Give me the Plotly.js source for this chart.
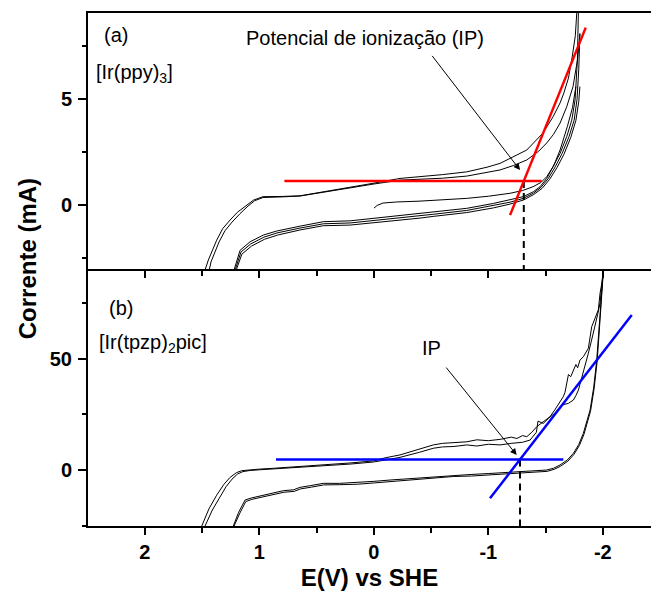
<!DOCTYPE html>
<html>
<head>
<meta charset="utf-8">
<script src="https://cdn.plot.ly/plotly-3.0.1.min.js"></script>
<style>html,body{margin:0;padding:0;background:#fff;}</style>
</head>
<body>
<div id="chart" style="width:651px;height:599px;"></div>
<script>
// ---------- tick labels ----------
const xTickVals = [2, 1, 0, -1, -2];
const xTickText = ['2', '1', '0', '-1', '-2'];
const xMinorVals = [2.5, 1.5, 0.5, -0.5, -1.5, -2.5];
const yaTickVals = [0, 5];
const yaTickText = ['0', '5'];
const yaMinorVals = [-2.5, 2.5, 7.5];
const ybTickVals = [0, 50];
const ybTickText = ['0', '50'];
const ybMinorVals = [-25, 25, 75];

// ---------- panel (a) [Ir(ppy)3] ----------
const aC_x = [-0.002, -0.03, -0.081, -0.20, -0.404, -0.60, -0.812, -1.00, -1.19, -1.30, -1.391, -1.46, -1.51, -1.57, -1.627, -1.69, -1.735, -1.765];
const aC_y = [-0.13, 0.00, 0.11, 0.16, 0.20, 0.26, 0.33, 0.43, 0.57, 0.70, 0.88, 1.08, 1.35, 1.85, 2.61, 3.71, 4.6, 5.6];

const aD1_x = [1.235, 1.218, 1.168, 1.081, 0.965, 0.848, 0.644, 0.441, 0.207, 0.004, -0.20, -0.404, -0.52, -0.812, -1.044, -1.19, -1.306, -1.393, -1.452, -1.51, -1.568, -1.627, -1.685, -1.729, -1.758, -1.778, -1.789];
const aD1_y = [-3.5, -3.0, -2.12, -1.72, -1.40, -1.21, -0.98, -0.77, -0.73, -0.61, -0.50, -0.38, -0.32, -0.14, 0.09, 0.25, 0.41, 0.64, 0.88, 1.27, 1.82, 2.45, 3.24, 4.02, 4.97, 6.85, 9.7];

const aD2_x = [1.225, 1.208, 1.16, 1.075, 0.96, 0.845, 0.644, 0.441, 0.207, 0.004, -0.20, -0.404, -0.52, -0.812, -1.044, -1.19, -1.306, -1.393, -1.46, -1.522, -1.585, -1.645, -1.705, -1.75, -1.775, -1.79, -1.80];
const aD2_y = [-3.5, -3.0, -2.2, -1.82, -1.50, -1.30, -1.07, -0.87, -0.83, -0.72, -0.60, -0.48, -0.42, -0.24, -0.02, 0.15, 0.33, 0.57, 0.85, 1.25, 1.82, 2.45, 3.24, 4.02, 5.0, 6.4, 8.1];

const aD3_x = [1.215, 1.198, 1.152, 1.068, 0.955, 0.84, 0.644, 0.441, 0.207, 0.004, -0.20, -0.404, -0.52, -0.812, -1.044, -1.19, -1.306, -1.393, -1.47, -1.535, -1.60, -1.66, -1.72, -1.765, -1.79, -1.80];
const aD3_y = [-3.5, -3.0, -2.3, -1.92, -1.60, -1.40, -1.16, -0.96, -0.93, -0.83, -0.70, -0.60, -0.52, -0.34, -0.12, 0.06, 0.25, 0.50, 0.80, 1.22, 1.78, 2.40, 3.20, 4.0, 4.9, 5.6];

const aA_x = [-1.78, -1.775, -1.76, -1.73, -1.70, -1.66, -1.627, -1.566, -1.478, -1.336, -1.164, -1.103, -0.989, -0.812, -0.60, -0.404, -0.229, 0.007, 0.20, 0.356, 0.50, 0.644, 0.80, 0.967, 1.05, 1.110, 1.19, 1.255, 1.32, 1.372, 1.445, 1.474, 1.49];
const aA_y = [9.7, 9.07, 8.0, 6.9, 6.0, 5.3, 4.83, 4.18, 3.41, 2.61, 2.14, 1.98, 1.80, 1.58, 1.45, 1.35, 1.27, 1.04, 0.86, 0.72, 0.58, 0.45, 0.42, 0.41, 0.25, 0.01, -0.32, -0.69, -1.1, -1.64, -2.58, -3.05, -3.5];

const aB_x = [-1.80, -1.78, -1.74, -1.685, -1.627, -1.57, -1.51, -1.44, -1.336, -1.22, -1.103, -0.95, -0.812, -0.60, -0.404, -0.229, 0.007, 0.20, 0.356, 0.50, 0.644, 0.80, 0.967, 1.04, 1.098, 1.17, 1.238, 1.30, 1.352, 1.422, 1.44, 1.455];
const aB_y = [8.1, 6.9, 5.6, 4.65, 3.88, 3.35, 2.94, 2.55, 2.14, 1.88, 1.67, 1.50, 1.38, 1.28, 1.22, 1.19, 1.0, 0.84, 0.70, 0.57, 0.44, 0.40, 0.37, 0.22, -0.03, -0.40, -0.79, -1.2, -1.73, -2.67, -3.15, -3.5];

// tangent construction (a)
const redH_x = [0.781, -1.467];
const redH_y = [1.15, 1.15];
const redS_x = [-1.19, -1.851];
const redS_y = [-0.46, 8.38];
const ipA_x = [-1.31, -1.31];
const ipA_y = [1.15, -3.5];

// ---------- panel (b) [Ir(tpzp)2pic] ----------
const bF1_x = [1.235, 1.227, 1.18, 1.124, 1.07, 1.022, 0.95, 0.87, 0.790, 0.70, 0.644, 0.55, 0.441, 0.30, 0.149, 0.0, -0.142, -0.28, -0.404, -0.55, -0.695, -0.85, -1.0, -1.15, -1.277, -1.40, -1.51, -1.57, -1.626, -1.69, -1.743, -1.79, -1.830, -1.889, -1.92, -1.947, -1.965, -1.976, -1.99, -2.0, -2.008];
const bF1_y = [-27, -25.2, -19, -13.5, -12.6, -12.0, -11.0, -10.2, -9.3, -8.9, -7.8, -7.0, -6.0, -6.0, -5.7, -5.1, -4.5, -4.0, -3.3, -2.8, -2.25, -2.0, -1.6, -1.2, -0.77, -0.5, 0, 0.8, 2.25, 4.5, 7.5, 11.5, 16.5, 27.0, 37, 49.5, 61, 72.1, 80, 87.1, 92.5];

const bF2_x = [1.228, 1.220, 1.17, 1.118, 1.065, 1.017, 0.945, 0.865, 0.785, 0.695, 0.64, 0.545, 0.437, 0.296, 0.145, -0.004, -0.146, -0.284, -0.408, -0.554, -0.699, -0.854, -1.004, -1.154, -1.281, -1.404, -1.514, -1.575, -1.631, -1.695, -1.748, -1.795, -1.835, -1.893, -1.924, -1.951, -1.968, -1.979, -1.993, -2.002, -2.009];
const bF2_y = [-27, -25.2, -19.4, -14.2, -13.2, -12.7, -11.7, -10.8, -10.0, -9.6, -8.5, -7.7, -6.7, -6.6, -6.4, -5.8, -5.2, -4.7, -4.0, -3.5, -2.9, -2.7, -2.3, -1.9, -1.4, -1.1, -0.6, 0.3, 1.7, 4.0, 7.0, 11.0, 16.0, 26.5, 36.5, 49.0, 60.5, 71.5, 79.5, 87.0, 92.5];

const bR1_x = [-2.008, -2.005, -1.995, -1.976, -1.961, -1.93, -1.903, -1.874, -1.85, -1.83, -1.801, -1.78, -1.765, -1.743, -1.72, -1.70, -1.685, -1.67, -1.655, -1.62, -1.58, -1.539, -1.50, -1.46, -1.423, -1.38, -1.336, -1.30, -1.25, -1.20, -1.103, -1.0, -0.90, -0.812, -0.70, -0.60, -0.520, -0.40, -0.229, -0.10, 0.004, 0.20, 0.441, 0.65, 0.877, 1.0, 1.08, 1.153, 1.20, 1.255, 1.31, 1.372, 1.44, 1.509, 1.517];
const bR1_y = [92.5, 91, 85, 79.6, 72.1, 68, 64.5, 54.8, 53, 51, 49.5, 46, 47.5, 45.0, 42, 43, 39.1, 35, 33.0, 30, 27, 24.0, 22.5, 21, 19.5, 17, 15.0, 15.5, 14.2, 14.8, 13.8, 13.2, 13.6, 12.7, 12.4, 12.0, 11.3, 9.5, 6.8, 5.5, 4.1, 3.2, 2.25, 1.6, 0.77, 0.4, 0.2, -0.3, -1.2, -3.3, -6.5, -11.3, -17.5, -25.2, -27];

const bR2_x = [-2.008, -2.005, -1.99, -1.976, -1.955, -1.932, -1.90, -1.874, -1.85, -1.830, -1.81, -1.787, -1.765, -1.743, -1.70, -1.66, -1.627, -1.58, -1.53, -1.481, -1.434, -1.42, -1.365, -1.30, -1.20, -1.103, -1.0, -0.90, -0.812, -0.70, -0.60, -0.520, -0.40, -0.229, -0.10, 0.004, 0.20, 0.441, 0.65, 0.877, 1.0, 1.08, 1.142, 1.19, 1.238, 1.29, 1.347, 1.41, 1.474, 1.483];
const bR2_y = [92.5, 91, 82, 75.2, 70, 64.5, 58, 52.6, 48, 45.0, 40, 36.0, 33.5, 31.5, 30, 29.5, 28.5, 25.5, 23.5, 21.0, 22, 17, 13.5, 12.5, 12.0, 11.3, 11.6, 10.8, 11.3, 10.6, 10.4, 9.8, 8.0, 5.7, 4.5, 3.6, 2.7, 2.0, 1.3, 0.5, 0.1, -0.2, -0.7, -1.8, -4.1, -7.5, -12.2, -18.0, -25.2, -27];

// tangent construction (b)
const blueH_x = [0.854, -1.655];
const blueH_y = [4.7, 4.7];
const blueS_x = [-1.015, -2.253];
const blueS_y = [-12.75, 69.8];
const ipB_x = [-1.277, -1.277];
const ipB_y = [4.7, -27];

// ---------- styles ----------
const FONT = 'Arial, "Liberation Sans", Helvetica, sans-serif';
const black = {color: '#000000', width: 1};
function curve(x, y, xa, ya) {
  return {x: x, y: y, xaxis: xa, yaxis: ya, mode: 'lines', type: 'scatter',
          line: black, hoverinfo: 'skip', showlegend: false};
}
function seg(x, y, xa, ya, color, width, dash) {
  return {x: x, y: y, xaxis: xa, yaxis: ya, mode: 'lines', type: 'scatter',
          line: {color: color, width: width, dash: dash || 'solid'}, hoverinfo: 'skip', showlegend: false};
}

const traces = [
  curve(aC_x, aC_y, 'x2', 'y2'),
  curve(aD1_x, aD1_y, 'x2', 'y2'),
  curve(aD2_x, aD2_y, 'x2', 'y2'),
  curve(aD3_x, aD3_y, 'x2', 'y2'),
  curve(aA_x, aA_y, 'x2', 'y2'),
  curve(aB_x, aB_y, 'x2', 'y2'),
  seg(ipA_x, ipA_y, 'x2', 'y2', '#000000', 2, '7px,5px'),
  seg(redH_x, redH_y, 'x2', 'y2', '#ff0000', 2.5),
  seg(redS_x, redS_y, 'x2', 'y2', '#ff0000', 2.5),

  curve(bF1_x, bF1_y, 'x', 'y'),
  curve(bF2_x, bF2_y, 'x', 'y'),
  curve(bR1_x, bR1_y, 'x', 'y'),
  curve(bR2_x, bR2_y, 'x', 'y'),
  seg(ipB_x, ipB_y, 'x', 'y', '#000000', 2, '7px,5px'),
  seg(blueH_x, blueH_y, 'x', 'y', '#0000ff', 2.5),
  seg(blueS_x, blueS_y, 'x', 'y', '#0000ff', 2.5)
];

const tickFont = {family: FONT, size: 20, color: '#000000', weight: 'bold'};
const xRange = [2.496, -2.421];

function xAxis(anchor, labels, mirror) {
  return {
    domain: [0, 1], anchor: anchor, range: xRange, autorange: false,
    tickmode: 'array', tickvals: xTickVals, ticktext: xTickText,
    showticklabels: labels,
    ticks: 'outside', ticklen: 7, tickwidth: 2, tickcolor: '#000000',
    minor: {tickmode: 'array', tickvals: xMinorVals, ticks: 'outside', ticklen: 5, tickwidth: 2, tickcolor: '#000000', showgrid: false},
    showline: true, linewidth: 2, linecolor: '#000000', mirror: mirror,
    showgrid: false, zeroline: false, tickfont: tickFont
  };
}
function yAxis(anchor, domain, range, tv, tt, mv) {
  return {
    domain: domain, anchor: anchor, range: range, autorange: false,
    tickmode: 'array', tickvals: tv, ticktext: tt,
    ticks: 'outside', ticklen: 8, tickwidth: 2, tickcolor: '#000000',
    minor: {tickmode: 'array', tickvals: mv, ticks: 'outside', ticklen: 4, tickwidth: 2, tickcolor: '#000000', showgrid: false},
    showline: true, linewidth: 2, linecolor: '#000000', mirror: false,
    showgrid: false, zeroline: false, tickfont: tickFont, ticklabelstandoff: 2
  };
}

const xa = xAxis('y', true, false);
xa.title = {text: 'E(V) vs SHE', font: {family: FONT, size: 24, color: '#000000', weight: 'bold'}, standoff: 7};
const xa2 = xAxis('y2', false, true);

const txtFont = {family: FONT, size: 20, color: '#000000'};

const layout = {
  width: 651, height: 599,
  margin: {l: 88, r: 0, t: 13, b: 73, pad: 0},
  paper_bgcolor: '#ffffff', plot_bgcolor: '#ffffff',
  showlegend: false,
  font: {family: FONT, color: '#000000'},
  xaxis: xa,
  xaxis2: xa2,
  yaxis: yAxis('x', [0, 0.501], [-25.2, 90.5], ybTickVals, ybTickText, ybMinorVals),
  yaxis2: yAxis('x2', [0.501, 1], [-3.0, 9.07], yaTickVals, yaTickText, yaMinorVals),
  annotations: [
    {xref: 'paper', yref: 'paper', x: -0.1083, y: 0.520, text: 'Corrente (mA)', textangle: -90,
     showarrow: false, xanchor: 'center', yanchor: 'middle',
     font: {family: FONT, size: 24, color: '#000000', weight: 'bold'}},
    {xref: 'paper', yref: 'paper', x: 0.0249, y: 0.957, text: '(a)', showarrow: false,
     xanchor: 'left', yanchor: 'middle', font: txtFont},
    {xref: 'paper', yref: 'paper', x: 0.0107, y: 0.883, text: '[Ir(ppy)<sub>3</sub>]', showarrow: false,
     xanchor: 'left', yanchor: 'middle', font: txtFont},
    {xref: 'paper', yref: 'paper', x: 0.492, y: 0.951, text: 'Potencial de ionização (IP)', showarrow: false,
     xanchor: 'center', yanchor: 'middle', font: txtFont},
    {xref: 'x2', yref: 'y2', axref: 'x2', ayref: 'y2', x: -1.277, y: 1.665, ax: -0.5, ay: 7.12,
     text: '', showarrow: true, arrowhead: 2, arrowsize: 1.3, arrowwidth: 1, arrowcolor: '#000000'},
    {xref: 'paper', yref: 'paper', x: 0.0337, y: 0.425, text: '(b)', showarrow: false,
     xanchor: 'left', yanchor: 'middle', font: txtFont},
    {xref: 'paper', yref: 'paper', x: 0.016, y: 0.355, text: '[Ir(tpzp)<sub>2</sub>pic]', showarrow: false,
     xanchor: 'left', yanchor: 'middle', font: txtFont},
    {xref: 'paper', yref: 'paper', x: 0.6105, y: 0.347, text: 'IP', showarrow: false,
     xanchor: 'center', yanchor: 'middle', font: txtFont},
    {xref: 'x', yref: 'y', axref: 'x', ayref: 'y', x: -1.248, y: 6.76, ax: -0.622, ay: 46.8,
     text: '', showarrow: true, arrowhead: 2, arrowsize: 1.3, arrowwidth: 1, arrowcolor: '#000000'}
  ]
};

Plotly.newPlot('chart', traces, layout, {staticPlot: true, displayModeBar: false});
</script>
</body>
</html>
